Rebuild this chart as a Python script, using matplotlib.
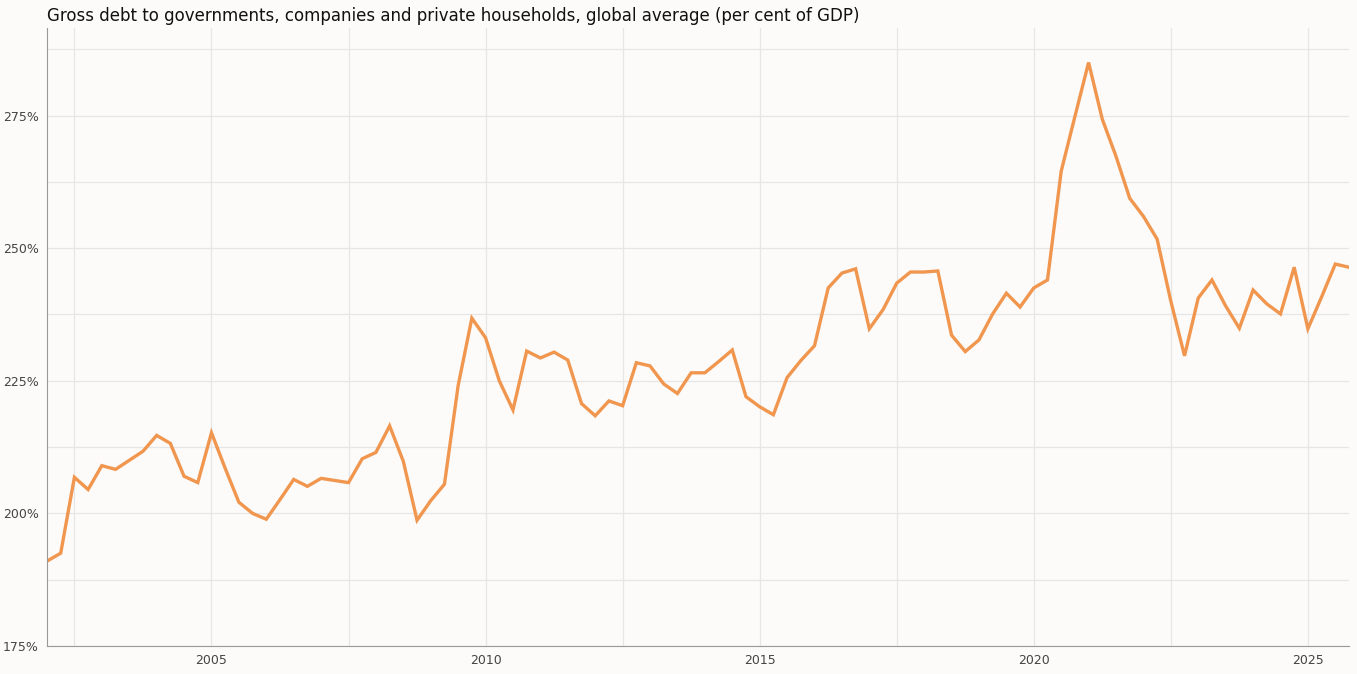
import numpy as np
import matplotlib.pyplot as plt
from matplotlib.ticker import FixedLocator

# quarterly values, per cent of GDP, starting 2002 Q1
debt = [
    191.0, 192.5, 206.8, 204.5, 209.0, 208.3, 210.0, 211.7, 214.7, 213.2, 207.0, 205.8,
    215.2, 208.5, 202.1, 200.0, 198.9, 202.6, 206.4, 205.1, 206.6, 206.2, 205.8, 210.3,
    211.5, 216.5, 209.8, 198.7, 202.4, 205.5, 224.1, 236.8, 233.1, 225.0, 219.5, 230.6,
    229.3, 230.4, 228.9, 220.7, 218.4, 221.2, 220.3, 228.4, 227.8, 224.4, 222.6, 226.5,
    226.5, 228.6, 230.8, 222.0, 220.1, 218.6, 225.6, 228.8, 231.6, 242.5, 245.3, 246.1,
    234.8, 238.4, 243.4, 245.5, 245.5, 245.7, 233.6, 230.5, 232.7, 237.6, 241.5, 238.9,
    242.5, 244.0, 264.5, 274.8, 285.0, 274.3, 267.3, 259.4, 256.0, 251.7, 240.0, 229.7,
    240.6, 244.0, 239.1, 234.9, 242.1, 239.5, 237.6, 246.4, 234.8, 240.8, 247.0, 246.4,
]
years = 2002.0 + 0.25 * np.arange(len(debt))

year_ticks = [2005, 2010, 2015, 2020, 2025]
pct_ticks = [175, 200, 225, 250, 275]

bg = "#fcfbf9"
fig = plt.figure(figsize=(13.57, 6.74), dpi=100, facecolor=bg)
ax = fig.add_axes([47 / 1357, 28 / 674, 1302 / 1357, 618 / 674], facecolor=bg)

ax.plot(years, debt, color="#f0964f", lw=2.4, solid_joinstyle="miter")

ax.set_xlim(2002.0, 2025.75)
ax.set_ylim(175, 291.5)
ax.xaxis.set_major_locator(FixedLocator(year_ticks))
ax.xaxis.set_minor_locator(FixedLocator([2002.5, 2007.5, 2012.5, 2017.5, 2022.5]))
ax.yaxis.set_major_locator(FixedLocator(pct_ticks))
ax.yaxis.set_minor_locator(FixedLocator([187.5, 212.5, 237.5, 262.5, 287.5]))
ax.set_yticklabels([f"{v}%" for v in pct_ticks])
ax.grid(True, which="both", color="#e6e6e6", lw=0.9)
ax.set_axisbelow(True)
ax.tick_params(which="both", length=0, labelsize=9, colors="#444444", pad=6)

for side in ["top", "right"]:
    ax.spines[side].set_visible(False)
for side in ["left", "bottom"]:
    ax.spines[side].set_color("#999999")

fig.text(47 / 1357, 1 - 16 / 674, "Gross debt to governments, companies and private households, "
         "global average (per cent of GDP)", fontsize=12, va="center", color="#111111")

fig.savefig("out.png", facecolor=bg)
